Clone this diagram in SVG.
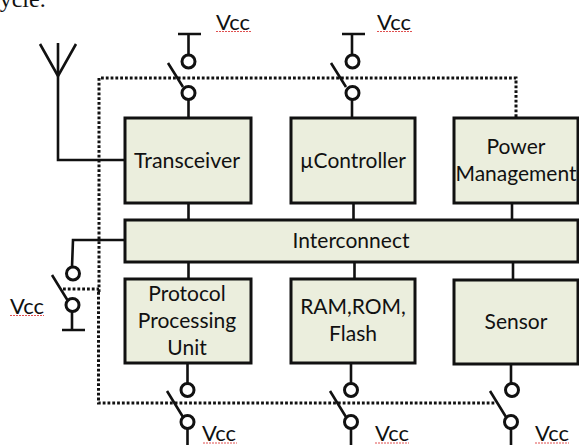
<svg xmlns="http://www.w3.org/2000/svg" width="579" height="445" viewBox="0 0 579 445">
<defs>
<style>
.box{fill:#ebeedd;stroke:#111;stroke-width:3}
.w{fill:none;stroke:#111;stroke-width:2.6}
.c{fill:#fff;stroke:#111;stroke-width:3}
.d{fill:none;stroke:#111;stroke-width:3;stroke-dasharray:2.800 2}
.t{font-family:"Lato","Open Sans",sans-serif;font-size:21px;fill:#111;text-anchor:middle}
.v{font-family:"Lato","Open Sans",sans-serif;font-size:22px;fill:#111;text-anchor:middle}
.s{fill:none;stroke:#e05050;stroke-width:1;stroke-dasharray:2 1}
</style>
</defs>
<text x="-11" y="7" font-family="Liberation Serif,serif" font-size="24" fill="#111">cycle.</text>
<g id="connectors">
<path class="d" d="M99 292V78H516V118"/>
<path class="d" d="M98.500 292V403H495"/>
<path class="d" d="M63 289H99"/>
<path class="w" d="M58 43V160H125"/>
<path class="w" d="M40 44L58 76L76 44"/>
<path class="w" d="M125 240H73L72 267"/>
<path class="w" d="M178 34H201M188.500 34V55M168 63L183 87M188.500 100V118"/>
<path class="w" d="M342 34H365M352 34V55M331 63L346 87M352 100V118"/>
<path class="w" d="M188.500 203V219M353.500 203V219M512 203V219"/>
<path class="w" d="M188.500 262V279M354.500 262V279M513 262V279"/>
<path class="w" d="M72 310V330M62 330H85M52 275L68 301"/>
<path class="w" d="M187.500 363V383M167 391L183 417M187.500 428V445"/>
<path class="w" d="M351 363V383M330 391L346 417M351 428V445"/>
<path class="w" d="M511 364V383M490 391L506 417M511 428V445"/>
</g>
<g id="transceiver"><rect class="box" x="125" y="118" width="126" height="85"/><text class="t" x="187" y="168" textLength="106" lengthAdjust="spacingAndGlyphs">Transceiver</text></g>
<g id="ucontroller"><rect class="box" x="291" y="118" width="124" height="85"/><text class="t" x="353" y="168" textLength="106" lengthAdjust="spacingAndGlyphs">µController</text></g>
<g id="power"><rect class="box" x="454" y="118" width="124" height="85"/><text class="t" x="516" y="154">Power</text><text class="t" x="516" y="181" textLength="121" lengthAdjust="spacingAndGlyphs">Management</text></g>
<g id="interconnect"><rect class="box" x="125" y="220" width="453" height="42"/><text class="t" x="351" y="248">Interconnect</text></g>
<g id="protocol"><rect class="box" x="125" y="279" width="126" height="84"/><text class="t"><tspan x="187" y="301">Protocol</tspan><tspan x="187" y="328">Processing</tspan><tspan x="187" y="355">Unit</tspan></text></g>
<g id="memory"><rect class="box" x="291" y="279" width="124" height="84"/><text class="t"><tspan x="353" y="314">RAM,ROM,</tspan><tspan x="353" y="341">Flash</tspan></text></g>
<g id="sensor"><rect class="box" x="454" y="280" width="124" height="84"/><text class="t" x="516" y="329">Sensor</text></g>
<g id="switches">
<circle class="c" cx="188.500" cy="61.500" r="6.500"/><circle class="c" cx="188.500" cy="93" r="6.500"/>
<circle class="c" cx="352.500" cy="61.500" r="6.500"/><circle class="c" cx="352.500" cy="93" r="6.500"/>
<circle class="c" cx="73" cy="273.500" r="6.500"/><circle class="c" cx="72.500" cy="305" r="6.500"/>
<circle class="c" cx="187.500" cy="390" r="6.500"/><circle class="c" cx="187.500" cy="422" r="6.500"/>
<circle class="c" cx="351" cy="390" r="6.500"/><circle class="c" cx="351" cy="422" r="6.500"/>
<circle class="c" cx="512" cy="390" r="6.500"/><circle class="c" cx="511" cy="422" r="6.500"/>
</g>
<g id="labels">
<text class="v" x="233" y="30">Vcc</text><path class="s" d="M216 31.500H251"/>
<text class="v" x="394" y="30">Vcc</text><path class="s" d="M377 31.500H412"/>
<text class="v" x="27" y="314">Vcc</text><path class="s" d="M10 315.500H44"/>
<text class="v" x="219" y="441">Vcc</text><path class="s" d="M203 443H237"/>
<text class="v" x="392" y="441">Vcc</text><path class="s" d="M375 443H409"/>
<text class="v" x="552" y="441">Vcc</text><path class="s" d="M535 443H569"/>
</g>
</svg>
